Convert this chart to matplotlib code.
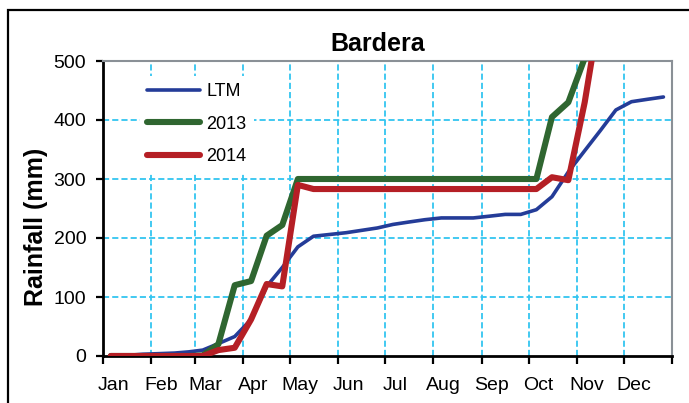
import matplotlib

matplotlib.use("Agg")
import matplotlib.pyplot as plt
import matplotlib.patches as mpatches
from matplotlib.ticker import FixedLocator, NullFormatter
import numpy as np

plt.rcParams["font.family"] = ["Liberation Sans", "DejaVu Sans"]

months = ["Jan", "Feb", "Mar", "Apr", "May", "Jun",
          "Jul", "Aug", "Sep", "Oct", "Nov", "Dec"]
month_len = [31, 28, 31, 30, 31, 30, 31, 31, 30, 31, 30, 31]

# cumulative rainfall (mm) per dekad, 36 dekads
ltm = [0, 1, 3, 4, 5, 7, 10, 21, 33, 62, 118, 150,
       185, 203, 206, 209, 213, 217, 223, 227, 231, 234, 234, 234,
       237, 240, 240, 248, 270, 312, 348, 382, 417, 431, 435, 439]
y2013 = [0, 0, 0, 0, 0, 0, 1, 20, 120, 127, 204, 222,
         300, 300, 300, 300, 300, 300, 300, 300, 300, 300, 300, 300,
         300, 300, 300, 300, 405, 430, 505, 570, 610, 640, 650, 655]
y2014 = [0, 0, 0, 0, 0, 0, 0, 10, 14, 62, 122, 118,
         290, 283, 283, 283, 283, 283, 283, 283, 283, 283, 283, 283,
         283, 283, 283, 283, 303, 298, 430, 590, 640, 660, 670, 675]

# month starts and dekad mid-days
mstart = np.concatenate([[0], np.cumsum(month_len)])
dek = []
for s, n in zip(mstart[:-1], month_len):
    dek += [s + 5, s + 15, s + 20 + (n - 20) / 2]
dek = np.array(dek)

fig = plt.figure(figsize=(6.89, 4.03), dpi=100)
ax = fig.add_axes([103 / 689, 47 / 403, 569 / 689, 295 / 403])

# outer frame (cut off at right/bottom like the original)
fig.patches.append(mpatches.Rectangle((8 / 689, -0.1), 1.2, (393 / 403) + 0.1,
                                      transform=fig.transFigure, fill=False,
                                      ec="black", lw=1.6))

grid_kw = dict(color="#33c5f0", lw=1.3, ls=(0, (3.4, 1.7)), zorder=1)
for v in [100, 200, 300, 400, 500]:
    ax.axhline(v, **grid_kw)
for s in mstart[1:-1]:
    ax.axvline(s, **grid_kw)

ax.plot(dek, ltm, color="#243c98", lw=2.6, label="LTM", zorder=3,
        solid_joinstyle="round", solid_capstyle="round")
ax.plot(dek, y2013, color="#2f6630", lw=4.4, label="2013", zorder=3,
        solid_joinstyle="round", solid_capstyle="round")
ax.plot(dek, y2014, color="#b51f25", lw=4.4, label="2014", zorder=3,
        solid_joinstyle="round", solid_capstyle="round")

ax.set_xlim(0, 365)
ax.set_ylim(0, 500)
ax.set_yticks([0, 100, 200, 300, 400, 500])
ax.xaxis.set_major_locator(FixedLocator(mstart))
ax.xaxis.set_major_formatter(NullFormatter())
ax.xaxis.set_minor_locator(FixedLocator(mstart[:-1] + 6.5))
ax.set_xticklabels(months, minor=True)
ax.tick_params(axis="x", which="major", length=6, width=1.6, direction="out")
ax.tick_params(axis="x", which="minor", length=0, pad=15, labelsize=14)
ax.tick_params(axis="y", length=5, width=1.6, pad=7, labelsize=14)

for side in ["left", "bottom"]:
    ax.spines[side].set_linewidth(2.0)
    ax.spines[side].set_color("black")
for side in ["top", "right"]:
    ax.spines[side].set_linewidth(1.5)
    ax.spines[side].set_color("#8a9096")

ax.set_ylabel("Rainfall (mm)", fontsize=18, fontweight="bold")
ax.yaxis.set_label_coords(-0.097, 0.437)
fig.text(378 / 689, 359 / 403, "Bardera", ha="center", va="center",
         fontsize=18, fontweight="bold")

leg = ax.legend(loc="upper left", bbox_to_anchor=(0.065, 0.949), borderaxespad=0,
                fontsize=13, handlelength=2.95, handletextpad=0.33,
                labelspacing=0.85, frameon=True, fancybox=False)
leg.get_frame().set_edgecolor("none")
leg.get_frame().set_facecolor("white")
leg.get_frame().set_alpha(1)

fig.savefig("out.png", dpi=100)
